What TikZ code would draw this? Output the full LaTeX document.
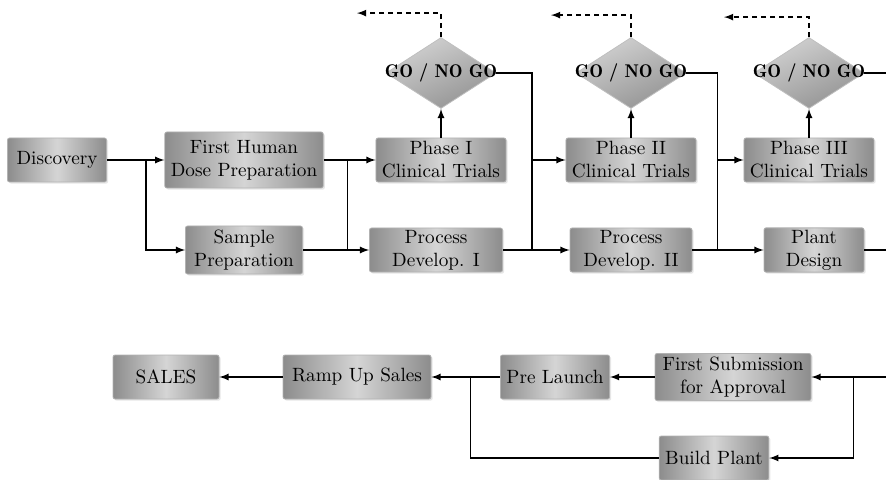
\documentclass[tikz,border=0pt]{standalone}
\usepackage{tikz}
\usetikzlibrary{shapes.geometric, arrows, shadows}
\tikzstyle{process} = [rectangle, rounded corners=1pt, minimum height=22pt, inner xsep=3pt, inner ysep=1pt, align=center, text=black, draw=gray!60, left color=gray!90, right color=gray!90, middle color=gray!33, drop shadow={opacity=0.2, shadow xshift=0.8pt, shadow yshift=-0.8pt}, font=\fontsize{9.6}{11.5}\selectfont]
\tikzstyle{decision} = [diamond, shape aspect=1.55, inner xsep=-14pt, inner ysep=0pt, minimum width=55pt, minimum height=35.5pt, draw=gray!50, top color=gray!35, bottom color=gray!85, shading angle=25, text=black, font=\fontsize{9.2}{10}\fontseries{b}\selectfont]
\tikzstyle{arrow} = [semithick,->,>=latex]
\tikzstyle{link} = [semithick]
\tikzstyle{backarrow} = [semithick,dash pattern=on 2.5pt off 2pt,->,>=latex]

\begin{document}
\begin{tikzpicture}[node distance=45pt]
	\useasboundingbox (0,0) rectangle (443pt,-240pt);
	
		% Draw the nodes
		\node (disc) [process, minimum width=49.5pt] at (28.5pt,-80pt) {Discovery};
		\node (fhd) [process, minimum width=77pt, minimum height=28pt, right of=disc, xshift=48.5pt] {First Human\\ Dose Preparation};
		\node (samp) [process, minimum width=58.5pt, minimum height=24pt, below of=fhd] {Sample\\ Preparation};
		\node (ph1) [process, minimum width=61pt, right of=fhd, xshift=53.5pt] {Phase I\\ Clinical Trials};
		\node (go1) [decision, above of=ph1, yshift=-1.5pt] {GO / NO GO};
		\node (pd1) [process, minimum width=66.5pt, below of=ph1, xshift=-2.5pt] {Process\\ Develop. I};
		\node (ph2) [process, minimum width=61pt, right of=ph1, xshift=50pt] {Phase II\\ Clinical Trials};
		\node (go2) [decision, above of=ph2, yshift=-1.5pt] {GO / NO GO};
		\node (pd2) [process, minimum width=61pt, below of=ph2] {Process\\ Develop. II};
		\node (ph3) [process, minimum width=59pt, right of=ph2, xshift=44pt] {Phase III\\ Clinical Trials};
		\node (go3) [decision, above of=ph3, yshift=-1.5pt] {GO / NO GO};
		\node (plant) [process, minimum width=50pt, below of=ph3, xshift=2.5pt] {Plant\\ Design};
		\node (subm) [process, minimum width=78pt, minimum height=23.5pt, below of=plant, xshift=-40.5pt, yshift=-18.5pt] {First Submission\\ for Approval};
		\node (build) [process, minimum width=53pt, below of=subm, xshift=-9.5pt, yshift=4.5pt] {Build Plant};
		\node (prel) [process, minimum width=53pt, left of=subm, xshift=-44pt] {Pre Launch};
		\node (ramp) [process, minimum width=74pt, left of=prel, xshift=-54pt] {Ramp Up Sales};
		\node (sales) [process, minimum width=53pt, left of=ramp, xshift=-50.5pt] {SALES};
		
		% Points where lines split or join
		\coordinate (split1) at ([xshift=19.5pt]disc.east);
		\coordinate (join1) at ([xshift=12pt]fhd.east);
		\coordinate (join2) at ([xshift=14.5pt]pd1.east);
		\coordinate (join3) at ([xshift=12.5pt]pd2.east);
		\coordinate (join4) at ([xshift=21pt]subm.east);
		\coordinate (join5) at ([xshift=19.5pt]ramp.east);
		\coordinate (rim) at (443pt,0);
		\coordinate (back1) at ([shift={(-42pt,12pt)}]go1.north);
		\coordinate (back2) at ([shift={(-40pt,11pt)}]go2.north);
		\coordinate (back3) at ([shift={(-42.5pt,10pt)}]go3.north);
		
		%Draw the arrows
		\draw [arrow] (disc) -- (fhd);
		\draw [arrow] (split1) |- (samp);
		\draw [arrow] (fhd) -- (ph1);
		\draw [arrow] (samp) -- (pd1);
		\draw [link] (join1) -- (join1 |- samp.east);
		\draw [arrow] (ph1) -- (go1);
		\draw [backarrow] (go1.north) |- (back1);
		\draw [link] (go1.east) -| (join2);
		\draw [arrow] (join2 |- ph2) -- (ph2);
		\draw [arrow] (pd1) -- (pd2);
		\draw [arrow] (ph2) -- (go2);
		\draw [backarrow] (go2.north) |- (back2);
		\draw [link] (go2.east) -| (join3);
		\draw [arrow] (join3 |- ph3) -- (ph3);
		\draw [arrow] (pd2) -- (plant);
		\draw [arrow] (ph3) -- (go3);
		\draw [backarrow] (go3.north) |- (back3);
		\draw [link] (go3.east) -- (go3.east -| rim);
		\draw [link] (plant) -- (plant -| rim);
		\draw [arrow] (subm -| rim) -- (subm);
		\draw [arrow] (join4) |- (build);
		\draw [arrow] (subm) -- (prel);
		\draw [arrow] (prel) -- (ramp);
		\draw [link] (build) -| (join5);
		\draw [arrow] (ramp) -- (sales);
	
	\end{tikzpicture}
\end{document}
